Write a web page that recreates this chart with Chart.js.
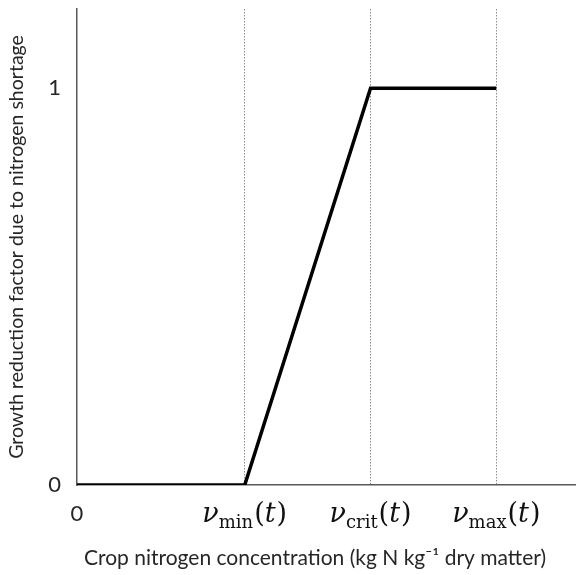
<!DOCTYPE html>
<html>
<head>
<meta charset="utf-8">
<script src="https://cdn.jsdelivr.net/npm/chart.js@4/dist/chart.umd.min.js"></script>
<style>
    html, body { margin: 0; padding: 0; background: #fff; }
    #wrap { width: 576px; height: 575px; }
</style>
</head>
<body>
<div id="wrap"><canvas id="nChart"></canvas></div>
<script>
// x positions of the thresholds (arbitrary units) and response values
const xPoints = [0, 4, 7, 10];
const yPoints = [0, 0, 1, 1];
const xTickValues = [0, 4, 7, 10];
const xTickNames = ["0", "min", "crit", "max"];
const yTickValues = [0, 1];
const xTitle = "Crop nitrogen concentration (kg N kg\u207B\u00B9 dry matter)";
const yTitle = "Growth reduction factor due to nitrogen shortage";

const axisColor = "#595959";
const textColor = "#262626";

// draws the nu_sub(t) labels and the x title under the x axis
const nuLabels = {
    id: "nuLabels",
    afterDraw(chart) {
        const ctx = chart.ctx;
        const xs = chart.scales.x;
        const base = chart.chartArea.bottom + 37;
        ctx.save();
        ctx.textBaseline = "alphabetic";
        xTickValues.forEach((v, i) => {
            const px = xs.getPixelForValue(v);
            const name = xTickNames[i];
            if (name === "0") {
                ctx.font = "22px Lato";
                ctx.textAlign = "center";
                ctx.fillStyle = textColor;
                ctx.fillText("0", px, base - 1);
                return;
            }
            ctx.fillStyle = "#111";
            const nuFont = "italic 27px 'DejaVu Serif'";
            const subFont = "18px 'DejaVu Serif'";
            const tFont = "27px 'DejaVu Serif'";
            const tItal = "italic 27px 'DejaVu Serif'";
            ctx.font = nuFont; const w1 = ctx.measureText("\u03BD").width;
            ctx.font = subFont; const w2 = ctx.measureText(name).width;
            ctx.font = tFont; const wp = ctx.measureText("(").width;
            ctx.font = tItal; const wt = ctx.measureText("t").width;
            const total = w1 + w2 + wp * 2 + wt + 2;
            let x = px - total / 2;
            ctx.textAlign = "left";
            ctx.font = nuFont; ctx.fillText("\u03BD", x, base); x += w1;
            ctx.font = subFont; ctx.fillText(name, x, base + 6); x += w2 + 1;
            ctx.font = tFont; ctx.fillText("(", x, base); x += wp;
            ctx.font = tItal; ctx.fillText("t", x, base); x += wt + 1;
            ctx.font = tFont; ctx.fillText(")", x, base);
        });

        // x axis title, centred a little left of the plot centre as in the original
        ctx.font = "21px Lato";
        ctx.fillStyle = textColor;
        ctx.textAlign = "center";
        ctx.textBaseline = "middle";
        ctx.fillText(xTitle, 315, chart.chartArea.bottom + 73);
        ctx.restore();
    }
};

new Chart(document.getElementById("nChart"), {
    type: "scatter",
    data: {
        datasets: [{
            data: xPoints.map((x, i) => ({ x: x, y: yPoints[i] })),
            showLine: true,
            borderColor: "#000",
            borderWidth: 3.5,
            pointRadius: 0,
            tension: 0
        }]
    },
    plugins: [nuLabels],
    options: {
        responsive: true,
        maintainAspectRatio: false,
        animation: false,
        layout: { padding: { top: 9, right: 0, left: 0, bottom: 0 } },
        plugins: { legend: { display: false }, tooltip: { enabled: false } },
        scales: {
            x: {
                type: "linear",
                min: 0,
                max: 11.9,
                afterBuildTicks: s => { s.ticks = xTickValues.map(v => ({ value: v })); },
                afterFit: s => { s.height = 90; s.paddingLeft = 0; s.paddingRight = 0; },
                ticks: { display: false },
                grid: {
                    drawTicks: false,
                    color: c => c.tick && c.tick.value === 0 ? "rgba(0,0,0,0)" : "#8c8c8c",
                    lineWidth: 1
                },
                border: { color: axisColor, width: 1.5, dash: [1.5, 1.5] },
                title: { display: false }
            },
            y: {
                min: 0,
                max: 1.2,
                afterBuildTicks: s => { s.ticks = yTickValues.map(v => ({ value: v })); },
                afterFit: s => { s.width = 77; s.paddingTop = 0; s.paddingBottom = 0; },
                ticks: {
                    color: textColor,
                    font: { family: "Lato", size: 22 },
                    padding: 16
                },
                grid: { display: false, drawTicks: false },
                border: { color: axisColor, width: 1.5 },
                title: {
                    display: true,
                    text: yTitle,
                    color: textColor,
                    font: { family: "Lato", size: 19.5 },
                    padding: { top: 5, bottom: 0 }
                }
            }
        }
    }
});
</script>
</body>
</html>
